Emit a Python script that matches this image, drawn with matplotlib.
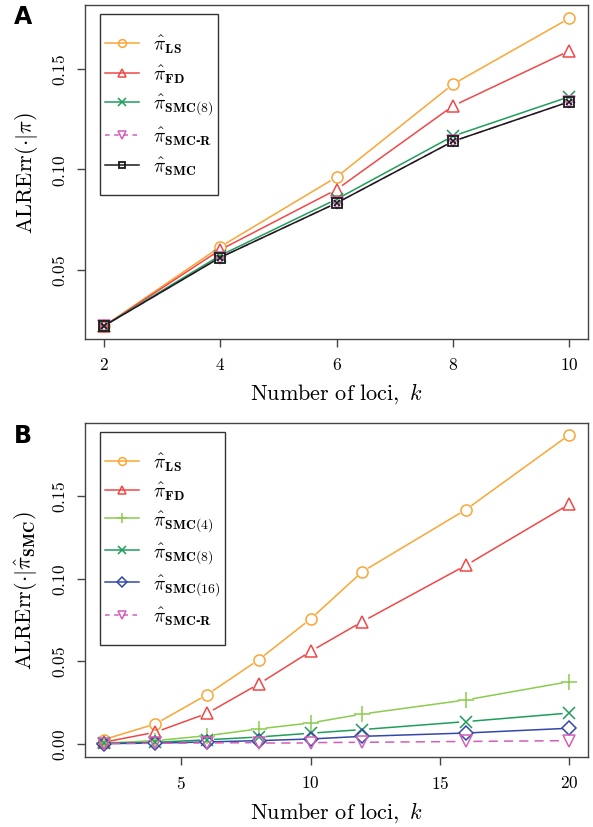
import numpy as np
import matplotlib
matplotlib.use("Agg")
import matplotlib.pyplot as plt
from matplotlib.lines import Line2D
from matplotlib.patches import Rectangle
from matplotlib.transforms import IdentityTransform

plt.rcParams['mathtext.fontset'] = 'cm'
plt.rcParams['font.family'] = 'serif'
plt.rcParams['font.serif'] = ['cmr10', 'DejaVu Serif']
plt.rcParams['axes.unicode_minus'] = False
plt.rcParams['axes.formatter.use_mathtext'] = True

# ---------------- data ----------------
kA = [2, 4, 6, 8, 10]
A_LS = [0.0220, 0.0615, 0.0962, 0.1424, 0.1752]
A_FD = [0.0220, 0.0600, 0.0900, 0.1316, 0.1590]
A_SMC8 = [0.0222, 0.0572, 0.0852, 0.1166, 0.1362]
A_SMCR = [0.0221, 0.0562, 0.0833, 0.1140, 0.1337]
A_SMC = [0.0221, 0.0562, 0.0833, 0.1140, 0.1337]
A_ticks_x = [2, 4, 6, 8, 10]
A_ticks_y = [0.05, 0.10, 0.15]

kB = [2, 4, 6, 8, 10, 12, 16, 20]
B_LS = [0.0026, 0.0121, 0.0298, 0.0510, 0.0756, 0.1042, 0.1417, 0.1870]
B_FD = [0.0010, 0.0071, 0.0185, 0.0363, 0.0560, 0.0740, 0.1080, 0.1450]
B_SMC4 = [0.0005, 0.0020, 0.0050, 0.0091, 0.0127, 0.0181, 0.0266, 0.0377]
B_SMC8 = [0.0003, 0.0010, 0.0025, 0.0042, 0.0065, 0.0087, 0.0135, 0.0187]
B_SMC16 = [0.0002, 0.0005, 0.0012, 0.0020, 0.0030, 0.0046, 0.0066, 0.0095]
B_SMCR = [0.0002, 0.0004, 0.0006, 0.0008, 0.0008, 0.0010, 0.0015, 0.0020]
B_ticks_x = [5, 10, 15, 20]
B_ticks_y = [0.00, 0.05, 0.10, 0.15]

C_LS = '#FBA535'
C_FD = '#F04848'
C_SMC4 = '#8CCB4E'
C_SMC8 = '#1E9E5A'
C_SMC16 = '#3448A8'
C_SMCR = '#D35EB5'
C_SMC = '#1a1a1a'

FW, FH = 593, 828
fig = plt.figure(figsize=(FW/100, FH/100), dpi=100)
axA = fig.add_axes([85/FW, 1-340/FH, (588-85)/FW, (340-6)/FH])
axB = fig.add_axes([85/FW, 1-758/FH, (588-85)/FW, (758-424)/FH])
axA.set_xlim(1.68, 10.32)
axA.set_ylim(0.0157, 0.1818)
axB.set_xlim(1.28, 20.72)
axB.set_ylim(-0.0079, 0.1941)

DASH = (6, 4)
GAP = 7.5  # pixels between point centre and line end (R type="b")


def lab(s):
    return r'$\hat{\pi}_{\mathbf{' + s + '}}$'


def series(ax, x, y, color, marker, label, handles, ms=8, ls='-', mew=1.1):
    tr = ax.transData
    inv = tr.inverted()
    pts = tr.transform(np.column_stack([x, y]))
    for p0, p1 in zip(pts[:-1], pts[1:]):
        d = p1 - p0
        L = np.hypot(*d)
        if L <= 2 * GAP:
            continue
        u = d / L
        a = inv.transform(p0 + u * GAP)
        b = inv.transform(p1 - u * GAP)
        kw = dict(dashes=DASH) if ls == '--' else {}
        ax.plot([a[0], b[0]], [a[1], b[1]], color=color, lw=1.1, **kw)
    ax.plot(x, y, ls='none', marker=marker, ms=ms, mfc='none', mec=color, mew=mew)
    kw = dict(dashes=(3, 3)) if ls == '--' else {}
    handles.append(Line2D([], [], color=color, lw=1.1, marker=marker, ms=ms * 0.7,
                          mfc='none', mec=color, mew=mew, label=label, **kw))


def style(ax, xt, yt, fmt):
    for s in ax.spines.values():
        s.set_color('#444444'); s.set_linewidth(1.0)
    ax.set_xticks(xt)
    ax.set_xticklabels([r'$%g$' % v for v in xt], fontsize=12.5)
    ax.set_yticks(yt)
    ax.set_yticklabels([r'$' + (fmt % v) + '$' for v in yt], fontsize=12.5,
                       rotation=90, va='center')
    ax.tick_params(axis='both', length=6, width=1.0, color='#444444', pad=6)
    ax.set_xlabel(r'$\mathrm{Number\ of\ loci,}\ k$', fontsize=16, labelpad=6)


PADX, PADY = 5, 18


def place(ax, leg):
    # anchor legend relative to the axes top-left corner in pixels
    x0, y1 = ax.transAxes.transform((0, 1))
    leg.set_bbox_to_anchor((x0 + 15 + PADX, y1 - 9 - PADY), transform=IdentityTransform())


def frame(ax, leg):
    bb = leg.get_window_extent(fig.canvas.get_renderer())
    r = Rectangle((bb.x0 - PADX, bb.y0 - PADY), bb.width + 2 * PADX, bb.height + 2 * PADY,
                  transform=IdentityTransform(), fill=True, fc='white', ec='#333333',
                  lw=1.0, zorder=4.9, clip_on=False)
    ax.add_artist(r)
    leg.set_zorder(5)


def make_legend(ax, handles, spacing):
    leg = ax.legend(handles=handles, loc='upper left', borderaxespad=0, frameon=False,
                    fontsize=14, handlelength=1.75, labelspacing=spacing, borderpad=0,
                    handletextpad=0.7)
    place(ax, leg)
    return leg


# Panel A
hA = []
series(axA, kA, A_LS, C_LS, 'o', lab('LS'), hA)
series(axA, kA, A_FD, C_FD, '^', lab('FD'), hA)
series(axA, kA, A_SMC8, C_SMC8, 'x', lab('SMC(8)'), hA)
series(axA, kA, A_SMCR, C_SMCR, 'v', lab('SMC\u2010R'), hA, ls='--')
series(axA, kA, A_SMC, C_SMC, 's', lab('SMC'), hA, ms=7, mew=1.3)
axA.plot(kA, A_SMC, ls='none', marker='x', ms=5, mec=C_SMC, mew=1.2)
style(axA, A_ticks_x, A_ticks_y, '%.2f')
axA.set_ylabel(r'$\mathrm{ALRErr}(\cdot|\pi)$', fontsize=16, labelpad=8)
legA = make_legend(axA, hA, 0.36)

# Panel B
hB = []
series(axB, kB, B_LS, C_LS, 'o', lab('LS'), hB)
series(axB, kB, B_FD, C_FD, '^', lab('FD'), hB)
series(axB, kB, B_SMC4, C_SMC4, '+', lab('SMC(4)'), hB, ms=11)
series(axB, kB, B_SMC8, C_SMC8, 'x', lab('SMC(8)'), hB)
series(axB, kB, B_SMC16, C_SMC16, 'D', lab('SMC(16)'), hB, ms=7)
series(axB, kB, B_SMCR, C_SMCR, 'v', lab('SMC\u2010R'), hB, ls='--')
style(axB, B_ticks_x, B_ticks_y, '%.2f')
axB.set_ylabel(r'$\mathrm{ALRErr}(\cdot|\hat{\pi}_{\mathbf{SMC}})$', fontsize=16, labelpad=8)
legB = make_legend(axB, hB, 0.33)

fig.canvas.draw()
frame(axA, legA)
frame(axB, legB)

fig.text(14/FW, 1-17/FH, 'A', fontsize=17, fontweight='bold', family='DejaVu Sans', va='center')
fig.text(14/FW, 1-436/FH, 'B', fontsize=17, fontweight='bold', family='DejaVu Sans', va='center')

fig.savefig('out.png', dpi=100)
